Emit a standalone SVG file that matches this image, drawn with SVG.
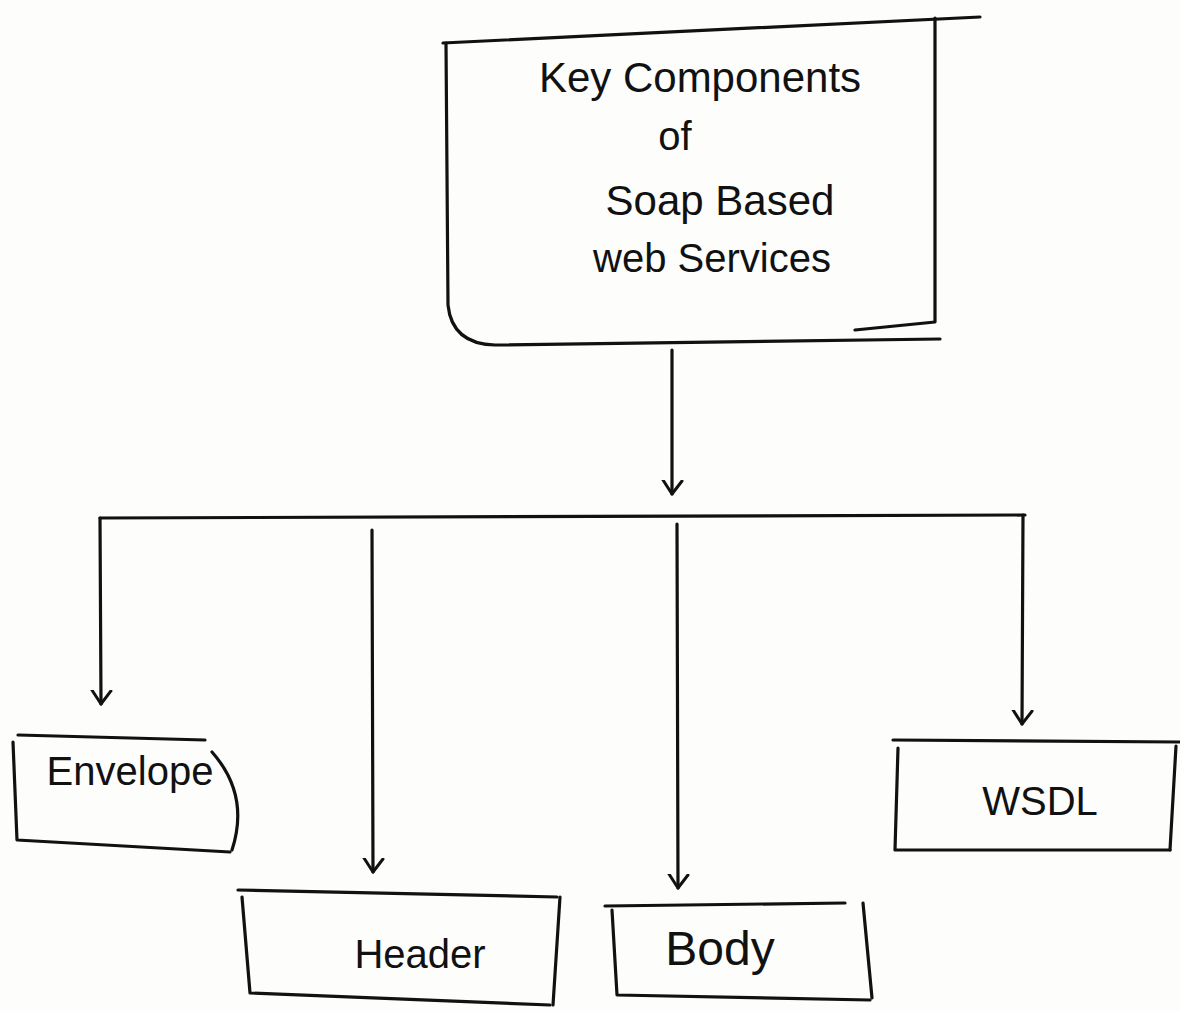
<svg xmlns="http://www.w3.org/2000/svg" width="1180" height="1012" viewBox="0 0 1180 1012">
<style>
.bg{fill:#fdfdfb}
.ln{fill:none;stroke:#111;stroke-width:3.2;stroke-linecap:round;stroke-linejoin:round}
.tx{font-family:"Liberation Sans","DejaVu Sans",sans-serif;fill:#111;text-anchor:middle}
</style>
<defs>
<marker id="arr" viewBox="-14 -12 16 24" markerWidth="16" markerHeight="24" markerUnits="userSpaceOnUse" refX="0" refY="0" orient="auto">
<path d="M-13,-10 L0,0 L-14,9" fill="none" stroke="#111" stroke-width="3" stroke-linecap="round" stroke-linejoin="round"/>
</marker>
</defs>
<rect class="bg" x="0" y="0" width="1180" height="1012"/>
<g id="connectors">
<path class="ln" d="M672,350 L672,494" marker-end="url(#arr)"/>
<path class="ln" d="M100,518 L1025,515"/>
<path class="ln" d="M100,518 L101,704" marker-end="url(#arr)"/>
<path class="ln" d="M372,530 L373,872" marker-end="url(#arr)"/>
<path class="ln" d="M677,524 L678,888" marker-end="url(#arr)"/>
<path class="ln" d="M1023,515 L1022,724" marker-end="url(#arr)"/>
</g>
<g id="node-main">
<path class="ln" d="M443,43 L980,17"/>
<path class="ln" d="M935,18 L935,322 L855,330"/>
<path class="ln" d="M446,43 L448,305 Q452,344 495,345 L940,339"/>
<text class="tx" x="700" y="92" font-size="42">Key Components</text>
<text class="tx" x="675" y="150" font-size="40">of</text>
<text class="tx" x="720" y="215" font-size="42">Soap Based</text>
<text class="tx" x="712" y="272" font-size="40">web Services</text>
</g>
<g id="node-envelope">
<path class="ln" d="M18,735 L205,740"/>
<path class="ln" d="M13,742 L17,840 L230,852"/>
<path class="ln" d="M212,752 Q250,795 232,850"/>
<text class="tx" x="130" y="785" font-size="40">Envelope</text>
</g>
<g id="node-header">
<path class="ln" d="M238,890 L557,897"/>
<path class="ln" d="M242,897 L250,993 L550,1005"/>
<path class="ln" d="M560,897 L553,1005"/>
<text class="tx" x="420" y="968" font-size="40">Header</text>
</g>
<g id="node-body">
<path class="ln" d="M605,906 L845,903"/>
<path class="ln" d="M612,910 L617,995 L870,1000"/>
<path class="ln" d="M863,903 L872,998"/>
<text class="tx" x="720" y="965" font-size="48">Body</text>
</g>
<g id="node-wsdl">
<path class="ln" d="M893,740 L1180,742"/>
<path class="ln" d="M898,748 L895,850 L1170,850"/>
<path class="ln" d="M1176,746 L1170,850"/>
<text class="tx" x="1040" y="815" font-size="40">WSDL</text>
</g>
</svg>
